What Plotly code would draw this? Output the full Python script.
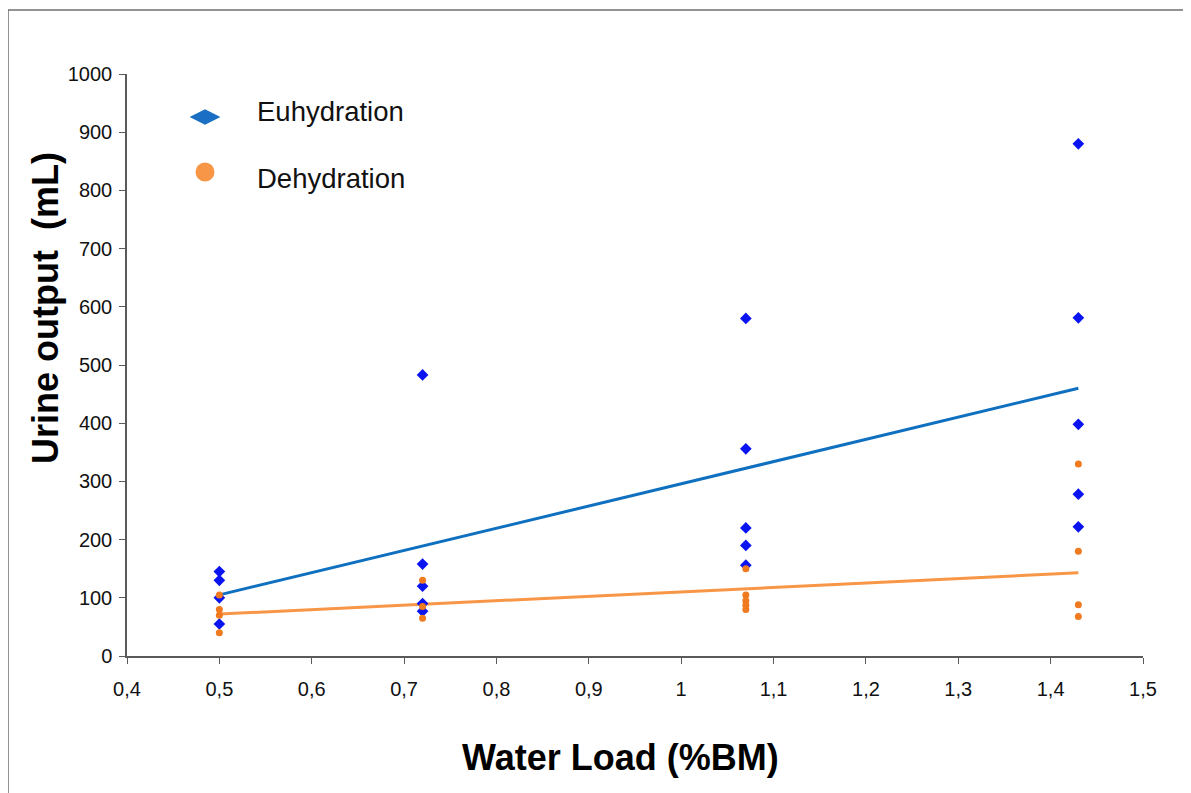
import plotly.graph_objects as go

# Water load (%BM) levels
euh_x = [0.5, 0.5, 0.5, 0.5,
         0.72, 0.72, 0.72, 0.72, 0.72,
         1.07, 1.07, 1.07, 1.07, 1.07,
         1.43, 1.43, 1.43, 1.43, 1.43]
euh_y = [145, 130, 100, 55,
         483, 158, 120, 90, 77,
         580, 356, 220, 190, 156,
         880, 581, 398, 278, 222]

deh_x = [0.5, 0.5, 0.5, 0.5,
         0.72, 0.72, 0.72,
         1.07, 1.07, 1.07, 1.07, 1.07,
         1.43, 1.43, 1.43, 1.43]
deh_y = [105, 80, 70, 40,
         130, 85, 65,
         150, 105, 95, 87, 80,
         330, 180, 88, 68]

# Trend line end points
trend_x = [0.5, 1.43]
euh_trend = [105, 460]
deh_trend = [72, 143]

x_ticks = [0.4, 0.5, 0.6, 0.7, 0.8, 0.9, 1.0, 1.1, 1.2, 1.3, 1.4, 1.5]
y_ticks = [0, 100, 200, 300, 400, 500, 600, 700, 800, 900, 1000]

series_names = ["Euhydration", "Dehydration"]

FONT = "Liberation Sans, Arial, sans-serif"

fig = go.Figure()

fig.add_trace(go.Scatter(x=trend_x, y=euh_trend, mode="lines",
                         line=dict(color="#1070C0", width=3), showlegend=False,
                         name=series_names[0] + " trend"))
fig.add_trace(go.Scatter(x=trend_x, y=deh_trend, mode="lines",
                         line=dict(color="#F79646", width=3), showlegend=False,
                         name=series_names[1] + " trend"))
fig.add_trace(go.Scatter(x=euh_x, y=euh_y, mode="markers", name=series_names[0],
                         marker=dict(symbol="diamond", color="#0A14F0", size=9),
                         showlegend=False))
fig.add_trace(go.Scatter(x=deh_x, y=deh_y, mode="markers", name=series_names[1],
                         marker=dict(symbol="circle", color="#F07A20", size=7),
                         showlegend=False))

# legend key symbols on a hidden overlay axis (0..1 across the plot area)
fig.add_trace(go.Scatter(x=[(205 - 127) / 1016], y=[(656 - 117) / 582], mode="markers",
                         xaxis="x2", yaxis="y2", showlegend=False, hoverinfo="skip",
                         marker=dict(symbol="diamond-wide", color="#1A6FC4", size=22)))
fig.add_trace(go.Scatter(x=[(205 - 127) / 1016], y=[(656 - 172) / 582], mode="markers",
                         xaxis="x2", yaxis="y2", showlegend=False, hoverinfo="skip",
                         marker=dict(symbol="circle", color="#F79646", size=19)))

axis_common = dict(
    showgrid=False, zeroline=False, showline=True, linecolor="#5a5a5a", linewidth=1.5,
    ticks="outside", ticklen=6, tickcolor="#5a5a5a", tickwidth=1.2,
    tickfont=dict(family=FONT, size=20, color="#111111"),
)

annotations = [
    dict(text=series_names[0], xref="paper", yref="paper",
         x=(255 - 127) / 1016, y=(656 - 111) / 582, xanchor="left", yanchor="middle",
         showarrow=False, font=dict(family=FONT, size=27.5, color="#111111")),
    dict(text=series_names[1], xref="paper", yref="paper",
         x=(255 - 127) / 1016, y=(656 - 178) / 582, xanchor="left", yanchor="middle",
         showarrow=False, font=dict(family=FONT, size=27.5, color="#111111")),
    dict(text="<b>Water Load (%BM)</b>", xref="paper", yref="paper",
         x=(620 - 127) / 1016, y=(656 - 757) / 582, xanchor="center", yanchor="middle",
         showarrow=False, font=dict(family=FONT, size=36, color="black")),
    dict(text="<b>Urine output  (mL)</b>", xref="paper", yref="paper", textangle=-90,
         x=(45 - 127) / 1016, y=(656 - 308) / 582, xanchor="center", yanchor="middle",
         showarrow=False, font=dict(family=FONT, size=36, color="black")),
]

# page body adds an 8px offset, so the figure is 8px smaller and margins shifted
fig.update_layout(
    width=1183, height=785,
    paper_bgcolor="white", plot_bgcolor="white",
    separators=", ",
    margin=dict(l=119, r=48, t=66, b=137),
    xaxis=dict(range=[0.4, 1.5], tickvals=x_ticks, ticklabelstandoff=8, **axis_common),
    yaxis=dict(range=[0, 1000], tickvals=y_ticks, ticklabelstandoff=3, **axis_common),
    xaxis2=dict(range=[0, 1], overlaying="x", visible=False, fixedrange=True),
    yaxis2=dict(range=[0, 1], overlaying="y", visible=False, fixedrange=True),
    showlegend=False,
    annotations=annotations,
    shapes=[dict(type="rect", xref="paper", yref="paper",
                 x0=(8 - 127) / 1016, x1=(1189 - 127) / 1016,
                 y0=-0.4, y1=(656 - 10) / 582,
                 line=dict(color="#707070", width=1.5), fillcolor="rgba(0,0,0,0)",
                 layer="below")],
)

fig.write_html("out.html")
